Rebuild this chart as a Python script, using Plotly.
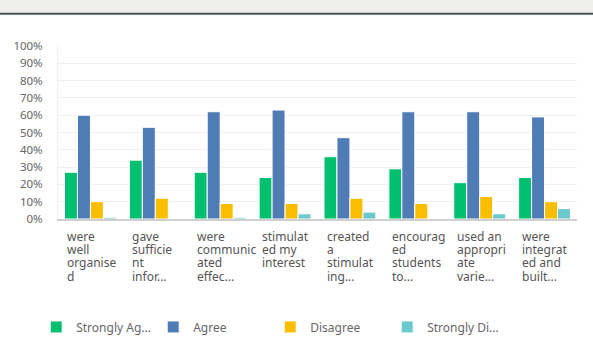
import plotly.graph_objects as go

# Survey responses per statement (percent of respondents)
categories = [
    "were well organised",
    "gave sufficient information",
    "were communicated effectively",
    "stimulated my interest",
    "created a stimulating",
    "encouraged students to",
    "used an appropriate variety",
    "were integrated and built",
]
# Wrapped axis labels as displayed under each group
tick_lines = [
    ["were", "well", "organise", "d"],
    ["gave", "sufficie", "nt", "infor..."],
    ["were", "communic", "ated", "effec..."],
    ["stimulat", "ed my", "interest"],
    ["created", "a", "stimulat", "ing..."],
    ["encourag", "ed", "students", "to..."],
    ["used an", "appropri", "ate", "varie..."],
    ["were", "integrat", "ed and", "built..."],
]

series_names = ["Strongly Ag...", "Agree", "Disagree", "Strongly Di..."]
strongly_agree = [27, 34, 27, 24, 36, 29, 21, 24]
agree = [60, 53, 62, 63, 47, 62, 62, 59]
disagree = [10, 12, 9, 9, 12, 9, 13, 10]
strongly_disagree = [1, 0, 1, 3, 4, 0, 3, 6]

y_ticks = list(range(0, 101, 10))
y_tick_text = [f"{v}%" for v in y_ticks]

colors = ["#00BF6F", "#507CB6", "#F9BE00", "#6BC8CD"]
series_values = [strongly_agree, agree, disagree, strongly_disagree]

fig = go.Figure()
for name, vals, col in zip(series_names, series_values, colors):
    fig.add_trace(go.Bar(
        x=categories, y=vals, name=name,
        marker=dict(color=col, line=dict(color="white", width=1)),
        hoverinfo="skip",
    ))

# Left-aligned, multi-line category labels under each group
annotations = []
for cat, lines in zip(categories, tick_lines):
    for j, line in enumerate(lines):
        annotations.append(dict(
            x=cat, y=0, xref="x", yref="y",
            text=line, showarrow=False,
            xanchor="left", yanchor="top",
            xshift=-25, yshift=-7 - 13.2 * j,
            font=dict(family="Noto Sans", size=12, color="#555555"),
        ))

# Grey header strip with dark rule at the top of the page
shapes = [
    dict(type="rect", xref="paper", yref="paper",
         x0=-0.2, x1=1.1, y0=1.19, y1=1.35,
         fillcolor="#efefed", line=dict(width=0), layer="below"),
    dict(type="line", xref="paper", yref="paper",
         x0=-0.2, x1=1.1, y0=1.186, y1=1.186,
         line=dict(color="#4b525a", width=2)),
]

fig.update_layout(
    width=593, height=349,
    margin=dict(l=58, r=16, t=46, b=130, autoexpand=False),
    paper_bgcolor="white", plot_bgcolor="white",
    barmode="group", bargap=0.2, bargroupgap=0,
    font=dict(family="Noto Sans", color="#555555"),
    showlegend=True,
    legend=dict(
        orientation="h", x=-0.042, xanchor="left", y=-0.624, yanchor="middle",
        entrywidth=72, entrywidthmode="pixels",
        font=dict(family="Noto Sans", size=12, color="#666666"),
        traceorder="normal",
    ),
    annotations=annotations,
    shapes=shapes,
)
fig.update_xaxes(
    showticklabels=False, showgrid=False,
    showline=True, linecolor="#d0d0d0", linewidth=2,
    ticks="",
)
fig.update_yaxes(
    range=[0, 100], tickvals=y_ticks, ticktext=y_tick_text,
    showgrid=True, gridcolor="#f0f0f0", gridwidth=1,
    showline=True, linecolor="#f0f0f0", linewidth=1,
    zeroline=False, ticks="", ticklabelstandoff=12,
    tickfont=dict(family="Noto Sans", size=11.5, color="#666666"),
)

fig.write_html("out.html")
